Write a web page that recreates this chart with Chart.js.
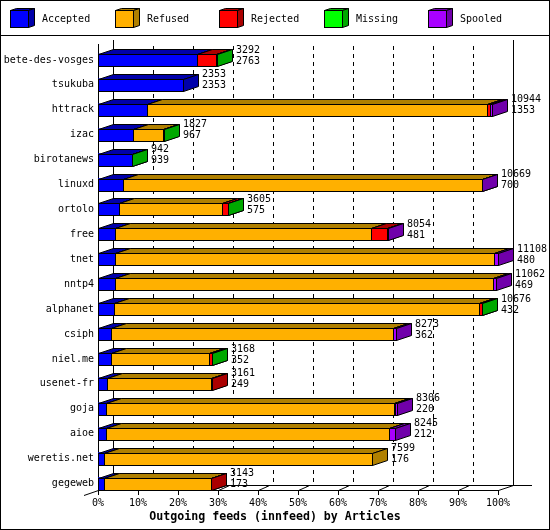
<!DOCTYPE html>
<html>
<head>
<meta charset="utf-8">
<script src="https://cdn.jsdelivr.net/npm/chart.js@4.4.0/dist/chart.umd.min.js"></script>
<style>
  html, body { margin: 0; padding: 0; background: #fff; }
</style>
</head>
<body>
<canvas id="chart-area" width="550" height="530"></canvas>
<script>
var feeds = ['bete-des-vosges', 'tsukuba', 'httrack', 'izac', 'birotanews', 'linuxd', 'ortolo', 'free', 'tnet',
             'nntp4', 'alphanet', 'csiph', 'niel.me', 'usenet-fr', 'goja', 'aioe', 'weretis.net', 'gegeweb'];
var offered  = [3292, 2353, 10944, 1827, 942, 10669, 3605, 8054, 11108, 11062, 10676, 8273, 3168, 3161, 8306, 8245, 7599, 3143];
var accepted = [2763, 2353, 1353, 967, 939, 700, 575, 481, 480, 469, 432, 362, 352, 249, 220, 212, 176, 173];
var refused  = [0, 0, 9460, 850, 0, 9955, 2878, 7092, 10517, 10491, 10158, 7822, 2739, 2882, 8009, 7878, 7423, 2955];
var rejected = [519, 0, 70, 0, 0, 0, 145, 444, 0, 0, 70, 0, 70, 30, 30, 0, 0, 15];
var missing  = [10, 0, 0, 10, 3, 0, 7, 0, 0, 0, 16, 0, 7, 0, 0, 0, 0, 0];
var spooled  = [0, 0, 61, 0, 0, 14, 0, 37, 111, 102, 0, 89, 0, 0, 47, 155, 0, 0];
var percentTicks = [0, 10, 20, 30, 40, 50, 60, 70, 80, 90, 100];

var fronts = ['#0000ff', '#ffb000', '#ff0000', '#00ff00', '#a800ff'];
var shades = ['#0000aa', '#b08000', '#aa0000', '#00a800', '#7000aa'];
var topValue = Math.max.apply(null, offered);
var depth = 15, rise = 5;
var mono = '"DejaVu Sans Mono", monospace';

Chart.defaults.font.family = mono;
Chart.defaults.font.size = 10;
Chart.defaults.color = '#000';

function line(ctx, x1, y1, x2, y2) {
  ctx.beginPath();
  ctx.moveTo(x1, y1);
  ctx.lineTo(x2, y2);
  ctx.stroke();
}

function poly(ctx, pts, fill) {
  ctx.beginPath();
  ctx.moveTo(pts[0][0], pts[0][1]);
  for (var k = 1; k < pts.length; k++) ctx.lineTo(pts[k][0], pts[k][1]);
  ctx.closePath();
  ctx.fillStyle = fill;
  ctx.fill();
  ctx.stroke();
}

// draws the box-in-perspective look: back wall, floor, then each bar with top and side faces
var boxes = {
  id: 'boxes',
  beforeDatasetsDraw: function(chart) {
    var ctx = chart.ctx, xs = chart.scales.x, a = chart.chartArea;
    var x0 = Math.round(a.left), x1 = Math.round(a.right);
    var fy = Math.round(a.bottom) - 6;
    var by = fy - rise;
    var top = Math.round(a.top) - 4;
    ctx.save();
    ctx.lineWidth = 1;
    ctx.strokeStyle = '#000';
    ctx.fillStyle = '#000';
    ctx.setLineDash([4, 4]);
    xs.ticks.forEach(function(t, i) {
      if (i === 0 || i === xs.ticks.length - 1) return;
      var x = Math.round(xs.getPixelForValue(t.value)) + depth + 0.5;
      line(ctx, x, top + 2, x, by);
    });
    ctx.setLineDash([]);
    line(ctx, x0 + depth + 0.5, top - 4, x0 + depth + 0.5, by + 0.5);
    line(ctx, x1 + depth + 0.5, top - 4, x1 + depth + 0.5, by + 0.5);
    line(ctx, x0 + depth, by + 0.5, x1 + depth + 19, by + 0.5);
    line(ctx, x0 + 0.5, top, x0 + 0.5, fy + 0.5);
    line(ctx, x0, fy + 0.5, x1, fy + 0.5);
    line(ctx, x0 - 14, fy + 5.5, x0 + 0.5, fy + 0.5);
    line(ctx, x1 + 0.5, fy + 0.5, x1 + depth + 0.5, by + 0.5);
    xs.ticks.forEach(function(t) {
      var x = Math.round(xs.getPixelForValue(t.value)) + 0.5;
      line(ctx, x, fy, x, fy + 5);
      if (x < x1) {
        line(ctx, x, fy + 0.5, x + 9, fy - 3.5);
        ctx.fillRect(x + 8, fy - 5, 2, 2);
      }
    });
    ctx.restore();
  },
  afterDatasetsDraw: function(chart) {
    var ctx = chart.ctx, xs = chart.scales.x;
    var sets = chart.data.datasets;
    ctx.save();
    ctx.lineWidth = 1;
    ctx.strokeStyle = '#000';
    feeds.forEach(function(name, i) {
      var cy = 0;
      sets.forEach(function(ds, j) {
        var el = chart.getDatasetMeta(j).data[i];
        cy = el.y;
        if (!ds.data[i]) return;
        var l = Math.round(el.base), r = Math.round(el.x);
        var t = Math.round(el.y - el.height / 2), b = Math.round(el.y + el.height / 2);
        ctx.fillStyle = fronts[j];
        ctx.fillRect(l, t, r - l + 1, b - t + 1);
        ctx.strokeRect(l + 0.5, t + 0.5, r - l, b - t);
        poly(ctx, [[l + 0.5, t + 0.5], [l + 0.5 + depth, t + 0.5 - rise],
                   [r + 0.5 + depth, t + 0.5 - rise], [r + 0.5, t + 0.5]], shades[j]);
        poly(ctx, [[r + 0.5, t + 0.5], [r + 0.5 + depth, t + 0.5 - rise],
                   [r + 0.5 + depth, b + 0.5 - rise], [r + 0.5, b + 0.5]], shades[j]);
      });
      var tx = Math.round(xs.getPixelForValue(offered[i])) + depth + 4;
      ctx.fillStyle = '#000';
      ctx.font = '10px ' + mono;
      ctx.textAlign = 'left';
      ctx.textBaseline = 'middle';
      ctx.fillText(String(offered[i]), tx, cy - 10);
      ctx.fillText(String(accepted[i]), tx, cy + 1);
    });
    ctx.restore();
  },
  afterDraw: function(chart) {
    var ctx = chart.ctx;
    ctx.save();
    ctx.lineWidth = 1;
    ctx.strokeStyle = '#000';
    ctx.strokeRect(0.5, 0.5, chart.width - 1, chart.height - 1);
    line(ctx, 0, 35.5, chart.width, 35.5);
    ctx.font = '10px ' + mono;
    ctx.textAlign = 'left';
    ctx.textBaseline = 'middle';
    chart.data.datasets.forEach(function(ds, j) {
      var x = Math.round(10 + j * 104.6);
      ctx.fillStyle = fronts[j];
      ctx.fillRect(x, 10, 19, 18);
      ctx.strokeRect(x + 0.5, 10.5, 18, 17);
      poly(ctx, [[x + 0.5, 10.5], [x + 6.5, 8.5], [x + 24.5, 8.5], [x + 18.5, 10.5]], shades[j]);
      poly(ctx, [[x + 18.5, 10.5], [x + 24.5, 8.5], [x + 24.5, 25.5], [x + 18.5, 27.5]], shades[j]);
      ctx.fillStyle = '#000';
      ctx.fillText(ds.label, x + 32, 19.5);
    });
    ctx.font = 'bold 11.6px ' + mono;
    ctx.textAlign = 'center';
    ctx.fillText('Outgoing feeds (innfeed) by Articles', chart.width / 2, 517);
    ctx.restore();
  }
};

var config = {
  type: 'bar',
  data: {
    labels: feeds,
    datasets: [
      { label: 'Accepted', data: accepted, backgroundColor: fronts[0] },
      { label: 'Refused', data: refused, backgroundColor: fronts[1] },
      { label: 'Rejected', data: rejected, backgroundColor: fronts[2] },
      { label: 'Missing', data: missing, backgroundColor: fronts[3] },
      { label: 'Spooled', data: spooled, backgroundColor: fronts[4] }
    ]
  },
  options: {
    indexAxis: 'y',
    responsive: false,
    animation: false,
    events: [],
    datasets: { bar: { barThickness: 12, borderWidth: 0 } },
    layout: { padding: { top: 47.5, left: 0, right: 52, bottom: 0 } },
    plugins: { legend: { display: false }, tooltip: { enabled: false } },
    scales: {
      x: {
        stacked: true,
        min: 0,
        max: topValue,
        grid: { display: false, drawTicks: false },
        border: { display: false },
        afterBuildTicks: function(s) {
          s.ticks = percentTicks.map(function(p) { return { value: p * topValue / 100 }; });
        },
        ticks: {
          autoSkip: false,
          maxRotation: 0,
          padding: 1,
          callback: function(v) { return Math.round(v / topValue * 100) + '%'; }
        },
        afterFit: function(s) { s.height = 34; }
      },
      y: {
        stacked: true,
        grid: { display: false, drawTicks: false },
        border: { display: false },
        ticks: { padding: 4, autoSkip: false },
        afterFit: function(s) { s.width = 98; }
      }
    }
  },
  plugins: [boxes]
};

window.onload = function() {
  var ctx = document.getElementById('chart-area').getContext('2d');
  window.feedChart = new Chart(ctx, config);
};
</script>
</body>
</html>
